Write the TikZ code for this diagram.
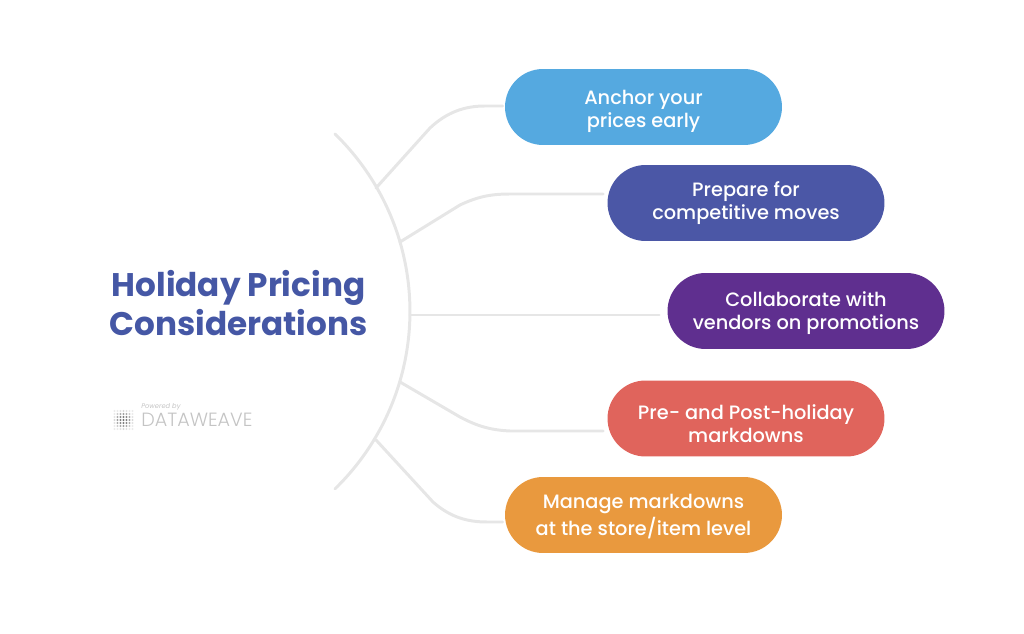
\documentclass[tikz,border=0pt]{standalone}
\usepackage{fontspec}
\setmainfont{Poppins}
\newfontfamily\pillfont{Poppins Medium}
\newfontfamily\logofont{Poppins Light}
\definecolor{skyfill}{HTML}{55A9E0}
\definecolor{indigofill}{HTML}{4B57A6}
\definecolor{purplefill}{HTML}{5F2F8F}
\definecolor{coralfill}{HTML}{E0645C}
\definecolor{amberfill}{HTML}{E9993E}
\definecolor{titleblue}{HTML}{4557A5}
\definecolor{branchgray}{HTML}{E6E6E6}
\definecolor{logogray}{HTML}{C4C4C4}
\newcommand{\twolines}[2]{\strut #1\\\strut #2}
\tikzset{
  pill/.style={minimum width=5.54cm,minimum height=1.52cm,rounded corners=0.76cm,inner sep=0pt},
  pilltext/.style={inner sep=0pt,text=white,align=center,font=\pillfont\fontsize{11}{13.2}\selectfont},
  branch/.style={draw=branchgray,line width=1.7pt,line cap=round}
}
\begin{document}
\begin{tikzpicture}[x=0.02cm,y=0.02cm]
  \useasboundingbox (0,-634) rectangle (1024,0);
  \coordinate (spineA) at (376,-188);
  \coordinate (spineB) at (400,-242);
  \coordinate (spineC) at (410,-315);
  \coordinate (spineD) at (400,-382);
  \coordinate (spineE) at (376,-440);
  \node[pill,fill=skyfill] (boxA) at (643.5,-107) {};
  \node[pill,fill=indigofill] (boxB) at (746,-203) {};
  \node[pill,fill=purplefill] (boxC) at (806,-311) {};
  \node[pill,fill=coralfill] (boxD) at (746,-418.5) {};
  \node[pill,fill=amberfill] (boxE) at (643.5,-515) {};
  \node[pilltext] (textA) at ([shift={(0,-4)}]boxA.center) {\twolines{Anchor your}{prices early}};
  \node[pilltext] (textB) at (boxB.center) {\twolines{Prepare for}{competitive moves}};
  \node[pilltext] (textC) at ([shift={(0,-2)}]boxC.center) {\twolines{Collaborate with}{vendors on promotions}};
  \node[pilltext] (textD) at ([shift={(0,-7.5)}]boxD.center) {\twolines{Pre- and Post-holiday}{markdowns}};
  \node[pilltext] (textE) at ([shift={(0,-2)}]boxE.center) {\twolines{Manage markdowns}{at the store/item level}};
  \node[text=titleblue,align=center,font=\fontsize{18.6}{21.8}\bfseries\selectfont] (title) at (238.5,-303) {Holiday Pricing\\Considerations};
  \foreach \i in {0,...,6}
    \foreach \j in {0,...,6}
      \pgfmathsetmacro{\shade}{max(8,55-7*((\i-3)*(\i-3)+(\j-3)*(\j-3))/1.6)}
      \fill[black!\shade!white] (114.5+3*\i,-411-3*\j) circle (1.1);
  \node[anchor=west,inner sep=0pt,text=logogray,font=\fontsize{3.8}{4}\itshape\selectfont] (powered) at (141,-406.5) {Powered by};
  \node[anchor=west,inner sep=0pt,text=logogray,font=\logofont\fontsize{10.9}{12}\selectfont] (brand) at (141,-419.5) {DATAWEAVE};
  \draw[branch] (335,-134) arc[start angle=45.8,end angle=-45.8,radius=247.5];
  \draw[branch] (spineA) -- (430,-128) .. controls (447,-112) and (465,-106) .. (485,-106) -- ([shift={(-2,1)}]boxA.west);
  \draw[branch] (spineB) -- (460,-205) .. controls (477,-197) and (490,-194) .. (510,-194) -- ([shift={(-4,9)}]boxB.west);
  \draw[branch] (spineC) -- ([shift={(-8,-4)}]boxC.west);
  \draw[branch] (spineD) -- (460,-417) .. controls (477,-426) and (490,-430) .. (510,-431) -- ([shift={(-4,-12.5)}]boxD.west);
  \draw[branch] (spineE) -- (433,-502) .. controls (450,-517) and (467,-522) .. (487,-522) -- ([shift={(-2,-7)}]boxE.west);
\end{tikzpicture}
\end{document}
